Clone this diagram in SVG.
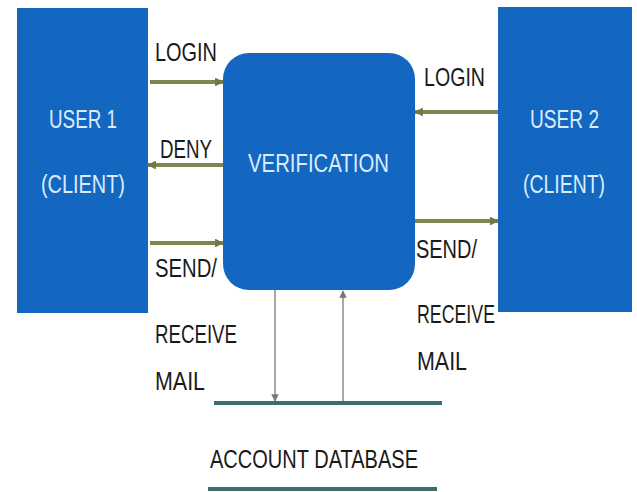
<svg xmlns="http://www.w3.org/2000/svg" width="637" height="492" viewBox="0 0 637 492">
<style>
.box{fill:#1467c0}
.wt{font-family:"Liberation Sans",Arial,sans-serif;font-size:26px;fill:#dcecff}
.bt{font-family:"Liberation Sans",Arial,sans-serif;font-size:26px;fill:#1a1a1a}
.arr{stroke:#7d8650;stroke-width:4;fill:none}
.thin{stroke:#8a8a8a;stroke-width:1.5;fill:none}
.db{stroke:#3f6d6e;stroke-width:4}
</style>
<defs>
<marker id="ah" viewBox="0 0 10 10" refX="9" refY="5" markerWidth="2.2" markerHeight="2.2" orient="auto" markerUnits="strokeWidth">
<path d="M0,0 L10,5 L0,10 z" fill="#6f7a45"/>
</marker>
<marker id="ahs" viewBox="0 0 10 10" refX="9" refY="5" markerWidth="5" markerHeight="5" orient="auto" markerUnits="strokeWidth">
<path d="M0,0 L10,5 L0,10 z" fill="#777"/>
</marker>
</defs>
<rect width="637" height="492" fill="#ffffff"/>
<g id="user1">
<rect class="box" x="17" y="8" width="131" height="305"/>
<text class="wt" x="49" y="128" textLength="68" lengthAdjust="spacingAndGlyphs">USER 1</text>
<text class="wt" x="41" y="193" textLength="84" lengthAdjust="spacingAndGlyphs">(CLIENT)</text>
</g>
<g id="user2">
<rect class="box" x="498" y="7" width="134" height="305"/>
<text class="wt" x="530" y="128" textLength="69" lengthAdjust="spacingAndGlyphs">USER 2</text>
<text class="wt" x="523" y="193" textLength="82" lengthAdjust="spacingAndGlyphs">(CLIENT)</text>
</g>
<g id="verification">
<rect class="box" x="223" y="53" width="192" height="237" rx="26" ry="26"/>
<text class="wt" x="248" y="172" textLength="141" lengthAdjust="spacingAndGlyphs">VERIFICATION</text>
</g>
<g id="database">
<line class="db" x1="214" y1="403" x2="442" y2="403"/>
<line class="db" x1="208" y1="489" x2="437" y2="489"/>
<text class="bt" x="210" y="468" textLength="208" lengthAdjust="spacingAndGlyphs">ACCOUNT DATABASE</text>
</g>
<g id="connectors">
<line class="arr" x1="150" y1="82" x2="223" y2="82" marker-end="url(#ah)"/>
<line class="arr" x1="223" y1="165" x2="148" y2="165" marker-end="url(#ah)"/>
<line class="arr" x1="150" y1="243" x2="223" y2="243" marker-end="url(#ah)"/>
<line class="arr" x1="498" y1="112" x2="415" y2="112" marker-end="url(#ah)"/>
<line class="arr" x1="415" y1="221" x2="498" y2="221" marker-end="url(#ah)"/>
<line class="thin" x1="275" y1="290" x2="275" y2="401" marker-end="url(#ahs)"/>
<line class="thin" x1="343" y1="401" x2="343" y2="291" marker-end="url(#ahs)"/>
</g>
<g id="labels">
<text class="bt" x="155" y="61" textLength="62" lengthAdjust="spacingAndGlyphs">LOGIN</text>
<text class="bt" x="160" y="158" textLength="52" lengthAdjust="spacingAndGlyphs">DENY</text>
<text class="bt" x="155" y="277" textLength="62" lengthAdjust="spacingAndGlyphs">SEND/</text>
<text class="bt" x="155" y="343" textLength="82" lengthAdjust="spacingAndGlyphs">RECEIVE</text>
<text class="bt" x="155" y="390" textLength="50" lengthAdjust="spacingAndGlyphs">MAIL</text>
<text class="bt" x="424" y="86" textLength="61" lengthAdjust="spacingAndGlyphs">LOGIN</text>
<text class="bt" x="416" y="258" textLength="61" lengthAdjust="spacingAndGlyphs">SEND/</text>
<text class="bt" x="417" y="323" textLength="78" lengthAdjust="spacingAndGlyphs">RECEIVE</text>
<text class="bt" x="417" y="370" textLength="50" lengthAdjust="spacingAndGlyphs">MAIL</text>
</g>
</svg>
